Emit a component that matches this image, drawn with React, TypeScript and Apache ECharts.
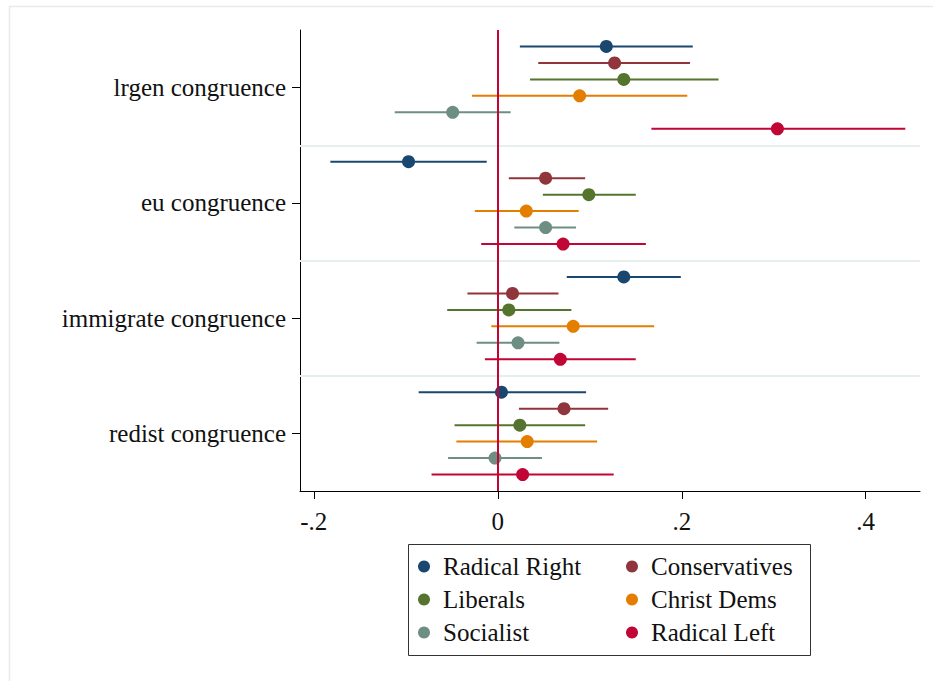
import React, { useEffect, useRef } from "react";
import * as echarts from "echarts";

// Outcome groups (top to bottom) and party families (row order inside a group)
const GROUPS = ["lrgen congruence", "eu congruence", "immigrate congruence", "redist congruence"];
const PARTIES = ["Radical Right", "Conservatives", "Liberals", "Christ Dems", "Socialist", "Radical Left"];
const COLORS = ["#1a476f", "#90353b", "#55752f", "#e37e00", "#6e8e84", "#c10534"];

// Point estimates per group, in GROUPS order
const estRadicalRight = [0.118, -0.097, 0.137, 0.004];
const estConservatives = [0.127, 0.052, 0.016, 0.072];
const estLiberals = [0.137, 0.099, 0.012, 0.024];
const estChristDems = [0.089, 0.031, 0.082, 0.032];
const estSocialist = [-0.049, 0.052, 0.022, -0.003];
const estRadicalLeft = [0.304, 0.071, 0.068, 0.027];

// Confidence intervals [lower, upper] per group, in GROUPS order
const ciRadicalRight = [[0.024, 0.212], [-0.182, -0.012], [0.075, 0.199], [-0.086, 0.096]];
const ciConservatives = [[0.044, 0.209], [0.012, 0.095], [-0.033, 0.066], [0.023, 0.120]];
const ciLiberals = [[0.035, 0.240], [0.049, 0.150], [-0.055, 0.080], [-0.047, 0.095]];
const ciChristDems = [[-0.028, 0.206], [-0.025, 0.088], [-0.007, 0.170], [-0.045, 0.108]];
const ciSocialist = [[-0.112, 0.014], [0.018, 0.085], [-0.023, 0.067], [-0.054, 0.048]];
const ciRadicalLeft = [[0.167, 0.443], [-0.018, 0.161], [-0.014, 0.150], [-0.072, 0.126]];

const X_TICKS = [-0.2, 0, 0.2, 0.4];

const ESTIMATES = [estRadicalRight, estConservatives, estLiberals, estChristDems, estSocialist, estRadicalLeft];
const INTERVALS = [ciRadicalRight, ciConservatives, ciLiberals, ciChristDems, ciSocialist, ciRadicalLeft];

const FONT = "'Liberation Serif', 'Times New Roman', serif";
const FONT_SIZE = 25;

// Row position: each group occupies one unit on the y scale, rows spread in 1/7 steps
const rowY = (g: number, p: number) => g + (p + 1) / 7;

const fmtTick = (v: number) => {
  if (Math.abs(v) < 1e-9) return "0";
  const s = String(Math.abs(Math.round(v * 100) / 100)).replace(/^0/, "");
  return (v < 0 ? "-" : "") + s;
};

export default function App() {
  const ref = useRef<HTMLDivElement>(null);

  useEffect(() => {
    if (!ref.current) return;
    const chart = echarts.init(ref.current, null, { renderer: "svg" });

    const ciSeries = PARTIES.map((name, p) => ({
      type: "custom",
      name: name + " CI",
      z: 2,
      silent: true,
      data: INTERVALS[p].map((ci, g) => [ci[0], ci[1], rowY(g, p)]),
      encode: { x: [0, 1], y: 2 },
      renderItem: (_params: any, api: any) => {
        const a = api.coord([api.value(0), api.value(2)]);
        const b = api.coord([api.value(1), api.value(2)]);
        return {
          type: "line",
          shape: { x1: a[0], y1: a[1], x2: b[0], y2: b[1] },
          style: { stroke: COLORS[p], lineWidth: 2 },
        };
      },
    }));

    const pointSeries = PARTIES.map((name, p) => ({
      type: "scatter",
      name,
      z: 4,
      symbol: "circle",
      symbolSize: 13,
      itemStyle: { color: COLORS[p], opacity: 1 },
      data: ESTIMATES[p].map((v, g) => [v, rowY(g, p)]),
    }));

    const legendBase = {
      orient: "vertical",
      top: 554,
      padding: 0,
      itemWidth: 12,
      itemHeight: 12,
      itemGap: 8,
      icon: "circle",
      selectedMode: false,
      textStyle: {
        fontFamily: FONT,
        fontSize: FONT_SIZE,
        color: "#111",
        lineHeight: 25,
        padding: [0, 0, 0, 8],
      },
    };

    chart.setOption({
      animation: false,
      backgroundColor: "#ffffff",
      textStyle: { fontFamily: FONT },
      grid: { left: 300, top: 30, right: 13, bottom: 190, containLabel: false },
      xAxis: {
        type: "value",
        min: -0.215,
        max: 0.459,
        axisLine: { show: true, onZero: false, lineStyle: { color: "#000", width: 1 } },
        axisTick: { show: true, length: 8, customValues: X_TICKS, lineStyle: { color: "#000" } },
        axisLabel: {
          customValues: X_TICKS,
          formatter: (v: number) => fmtTick(v),
          fontFamily: FONT,
          fontSize: FONT_SIZE,
          color: "#111",
          margin: 18,
        },
        splitLine: { show: false },
      },
      yAxis: {
        type: "value",
        min: 0,
        max: 4,
        inverse: true,
        axisLine: { show: true, onZero: false, lineStyle: { color: "#000", width: 1 } },
        axisTick: { show: true, length: 8, customValues: [0.5, 1.5, 2.5, 3.5], lineStyle: { color: "#000" } },
        axisLabel: {
          customValues: [0.5, 1.5, 2.5, 3.5],
          formatter: (v: number) => GROUPS[Math.floor(v)] ?? "",
          fontFamily: FONT,
          fontSize: FONT_SIZE,
          color: "#111",
          margin: 14,
        },
        splitLine: { show: false },
      },
      legend: [
        { ...legendBase, left: 418, data: [PARTIES[0], PARTIES[2], PARTIES[4]] },
        { ...legendBase, left: 626, data: [PARTIES[1], PARTIES[3], PARTIES[5]] },
      ],
      graphic: [
        {
          type: "rect",
          left: 7,
          top: 4,
          shape: { width: 1200, height: 1200 },
          style: { fill: "none", stroke: "#e6eced", lineWidth: 1.5 },
          silent: true,
          z: -10,
        },
        {
          type: "rect",
          left: 408,
          top: 544,
          shape: { width: 402, height: 111 },
          style: { fill: "#ffffff", stroke: "#333333", lineWidth: 1 },
          silent: true,
          z: -1,
        },
      ],
      series: [
        {
          // group separators
          type: "line",
          data: [],
          z: 1,
          markLine: {
            silent: true,
            symbol: "none",
            label: { show: false },
            lineStyle: { color: "#e7eef0", width: 2, type: "solid" },
            data: [{ yAxis: 1 }, { yAxis: 2 }, { yAxis: 3 }],
          },
        },
        ...ciSeries,
        {
          // reference line at zero
          type: "line",
          data: [],
          z: 3,
          markLine: {
            silent: true,
            symbol: "none",
            label: { show: false },
            lineStyle: { color: "#c10534", width: 2, type: "solid" },
            data: [{ xAxis: 0 }],
          },
        },
        ...pointSeries,
      ],
    });

    return () => chart.dispose();
  }, []);

  return (
    <div
      ref={ref}
      style={{ position: "absolute", left: 0, top: 0, width: 933, height: 681 }}
    />
  );
}
